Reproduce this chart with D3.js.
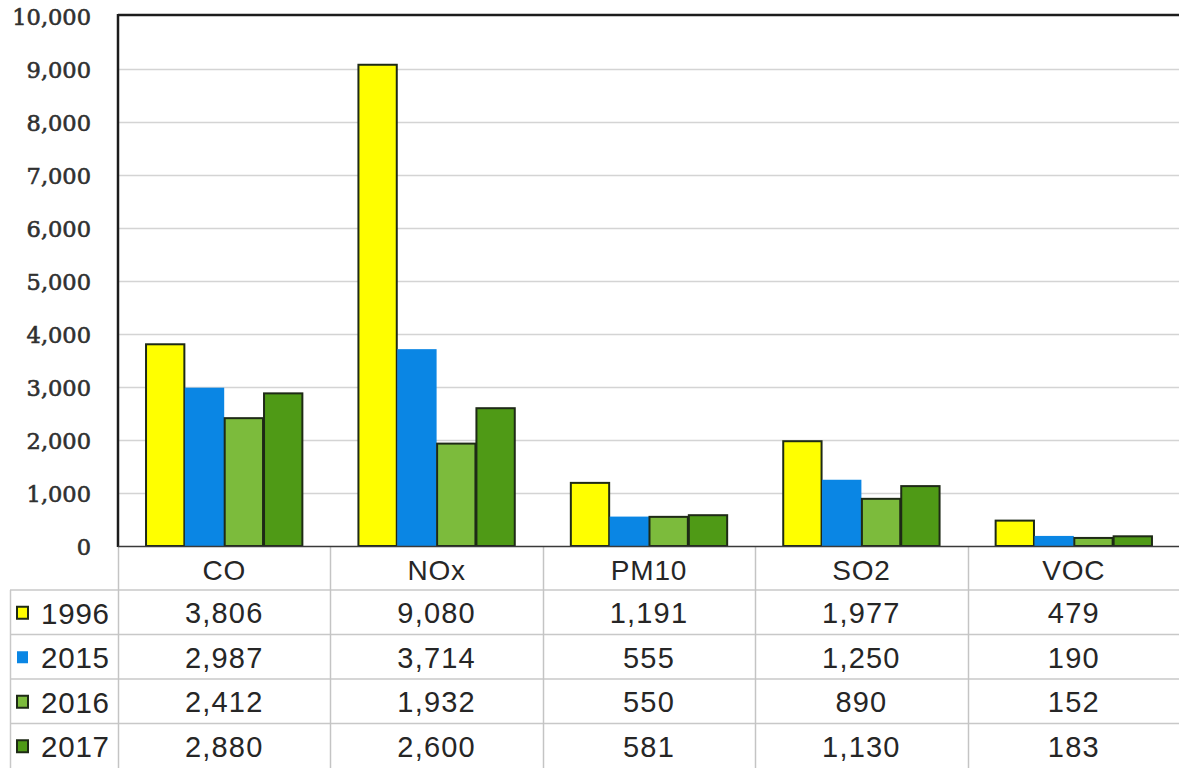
<!DOCTYPE html>
<html>
<head>
<meta charset="utf-8">
<script src="https://cdn.jsdelivr.net/npm/d3@7"></script>
<style>
  html, body { margin: 0; padding: 0; background: #fff; }
  svg { display: block; }
</style>
</head>
<body>
<svg id="chart" width="1179" height="768"></svg>
<script>
// Pollutant emissions by year
const categories = ["CO", "NOx", "PM10", "SO2", "VOC"];
const seriesNames = ["1996", "2015", "2016", "2017"];
const values1996 = [3806, 9080, 1191, 1977, 479];
const values2015 = [2987, 3714, 555, 1250, 190];
const values2016 = [2412, 1932, 550, 890, 152];
const values2017 = [2880, 2600, 581, 1130, 183];
const yTicks = [0, 1000, 2000, 3000, 4000, 5000, 6000, 7000, 8000, 9000, 10000];

const seriesValues = [values1996, values2015, values2016, values2017];
const colors = ["#ffff00", "#0a86e4", "#7cbb3c", "#4f9a16"];
const outlined = [true, false, true, true];

const svg = d3.select("#chart");
const W = 1179, H = 768;
const plotLeft = 118, plotRight = 1180, plotTop = 16, zeroY = 546;
const tableRowsY = [590, 634.5, 679, 723.5, 768];

const x0 = d3.scaleBand().domain(categories).range([plotLeft, plotRight]).padding(0);
const x1 = d3.scaleBand().domain(seriesNames).range([0, x0.bandwidth()])
  .paddingInner(0).paddingOuter(0.7);
const y = d3.scaleLinear().domain([0, 10000]).range([zeroY, plotTop]);

// horizontal gridlines
svg.append("g").selectAll("line").data(yTicks.filter(d => d > 0 && d < 10000)).join("line")
  .attr("x1", plotLeft).attr("x2", W)
  .attr("y1", d => Math.round(y(d)) + 0.5).attr("y2", d => Math.round(y(d)) + 0.5)
  .attr("stroke", "#d4d4d4").attr("stroke-width", 1.5);

// y axis labels
const yAxis = d3.axisLeft(y).tickValues(yTicks).tickFormat(d3.format(",")).tickSize(0).tickPadding(27);
const ya = svg.append("g").attr("transform", `translate(${plotLeft},0)`).call(yAxis);
ya.select(".domain").remove();
ya.selectAll("text")
  .attr("font-family", "'DejaVu Serif', serif")
  .attr("font-size", 22.5)
  .attr("font-weight", "normal")
  .attr("fill", "#303030")
  .attr("stroke", "#303030")
  .attr("stroke-width", 0.6)
  .attr("dy", "0.36em");

// table grid
const tg = svg.append("g");
// horizontal rules of the table
tableRowsY.slice(0, 4).forEach(yy => {
  tg.append("line").attr("x1", 10).attr("x2", W).attr("y1", yy).attr("y2", yy)
    .attr("stroke", "#c8c8c8").attr("stroke-width", 1.5);
});
// left border of legend column
tg.append("line").attr("x1", 10.5).attr("x2", 10.5).attr("y1", tableRowsY[0]).attr("y2", H)
  .attr("stroke", "#c8c8c8").attr("stroke-width", 1.5);
// vertical separators between categories
const bounds = categories.map(c => x0(c));
tg.selectAll("line.vsep").data(bounds).join("line")
  .attr("class", "vsep")
  .attr("x1", d => Math.round(d) + 0.5).attr("x2", d => Math.round(d) + 0.5)
  .attr("y1", zeroY).attr("y2", H)
  .attr("stroke", "#c4c4c4").attr("stroke-width", 1.5);

// bars
const groups = svg.append("g").selectAll("g").data(categories).join("g")
  .attr("transform", c => `translate(${x0(c)},0)`);
groups.selectAll("rect").data((c, ci) => seriesNames.map((s, si) => ({ s, si, v: seriesValues[si][ci] })))
  .join("rect")
  .attr("x", d => x1(d.s) + (outlined[d.si] ? 0.5 : 0))
  .attr("width", d => x1.bandwidth() - (outlined[d.si] ? 1 : 0))
  .attr("y", d => y(d.v))
  .attr("height", d => zeroY - y(d.v))
  .attr("fill", d => colors[d.si])
  .attr("stroke", d => outlined[d.si] ? "#1e2a16" : "none")
  .attr("stroke-width", 2);

// plot frame: top border, left axis, baseline
svg.append("line").attr("x1", plotLeft).attr("x2", W).attr("y1", 15).attr("y2", 15)
  .attr("stroke", "#1c1c1c").attr("stroke-width", 2.5);
svg.append("line").attr("x1", plotLeft).attr("x2", plotLeft).attr("y1", 14).attr("y2", zeroY + 1)
  .attr("stroke", "#1c1c1c").attr("stroke-width", 2.5);
svg.append("line").attr("x1", plotLeft).attr("x2", W).attr("y1", zeroY + 0.5).attr("y2", zeroY + 0.5)
  .attr("stroke", "#3a3a3a").attr("stroke-width", 1.5);

// category header row
const textFont = "'Liberation Sans', Arial, sans-serif";
svg.append("g").selectAll("text").data(categories).join("text")
  .attr("x", c => x0(c) + x0.bandwidth() / 2)
  .attr("y", (zeroY + tableRowsY[0]) / 2 + 2)
  .attr("text-anchor", "middle").attr("dominant-baseline", "central")
  .attr("font-family", textFont).attr("font-size", 28).attr("letter-spacing", 0.8)
  .attr("fill", "#262626")
  .text(c => c);

// data rows
const fmt = d3.format(",");
seriesNames.forEach((s, si) => {
  const cy = (tableRowsY[si] + tableRowsY[si + 1]) / 2 + 1;
  // legend key
  svg.append("rect")
    .attr("x", 17).attr("y", cy - 6.5).attr("width", 11).attr("height", 12)
    .attr("fill", colors[si])
    .attr("stroke", outlined[si] ? "#1e2a16" : "none").attr("stroke-width", 2);
  svg.append("text")
    .attr("x", 41).attr("y", cy)
    .attr("dominant-baseline", "central")
    .attr("font-family", textFont).attr("font-size", 29.5).attr("letter-spacing", 0.8)
    .attr("fill", "#262626")
    .text(s);
  svg.append("g").selectAll("text").data(categories).join("text")
    .attr("x", (c) => x0(c) + x0.bandwidth() / 2)
    .attr("y", cy)
    .attr("text-anchor", "middle").attr("dominant-baseline", "central")
    .attr("font-family", textFont).attr("font-size", 29).attr("letter-spacing", 1.2)
    .attr("fill", "#262626")
    .text((c, ci) => fmt(seriesValues[si][ci]));
});
</script>
</body>
</html>
